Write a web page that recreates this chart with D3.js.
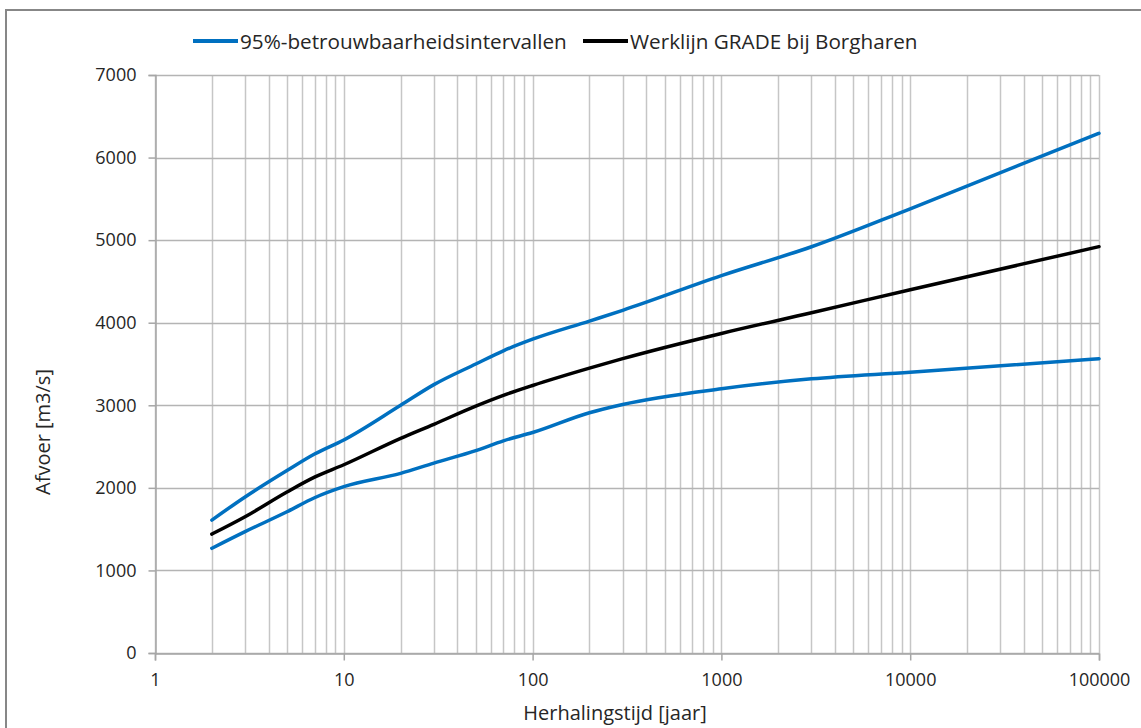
<!DOCTYPE html>
<html lang="nl">
<head>
<meta charset="UTF-8">
<title>Werklijn GRADE bij Borgharen</title>
<script src="https://cdn.jsdelivr.net/npm/d3@7"></script>
<style>
  body { margin: 0; background: #fff; }
  text { font-family: "Open Sans", "Noto Sans", sans-serif; fill: #262626; }
</style>
</head>
<body>
<svg id="chart" width="1141" height="728"></svg>
<script>
// herhalingstijd (jaar) en afvoer (m3/s)
var jaren   = [2, 3, 5, 7, 10, 20, 30, 50, 70, 100, 200, 300, 1000, 3000, 10000, 100000];
var boven   = [1610, 1890, 2210, 2410, 2580, 3000, 3250, 3500, 3660, 3800, 4020, 4150, 4570, 4920, 5380, 6294];
var werklijn= [1440, 1650, 1950, 2130, 2280, 2600, 2770, 2990, 3120, 3240, 3450, 3565, 3870, 4120, 4400, 4921];
var onder   = [1268, 1470, 1710, 1880, 2014, 2176, 2300, 2450, 2570, 2670, 2910, 3010, 3200, 3320, 3400, 3565];

var xTicks = [1, 10, 100, 1000, 10000, 100000];
var yTicks = [0, 1000, 2000, 3000, 4000, 5000, 6000, 7000];

var svg = d3.select('#chart');

// rand om de grafiek
svg.append('rect')
  .attr('x', 6).attr('y', 10)
  .attr('width', 1150).attr('height', 740)
  .attr('fill', 'none').attr('stroke', '#878787').attr('stroke-width', 2);

var x = d3.scaleLog().domain([1, 100000]).range([155, 1099]);
var y = d3.scaleLinear().domain([0, 7000]).range([653, 75]);

// verticale rasterlijnen: 1..9 per decade
var minors = [];
for (var d = 1; d < 100000; d *= 10) {
  for (var k = 1; k < 10; k++) minors.push(d * k);
}
minors.push(100000);

var grid = svg.append('g');
grid.selectAll('line.v')
  .data(minors)
  .enter().append('line')
  .attr('class', 'v')
  .attr('x1', function(d) { return Math.round(x(d)) + 0.5; })
  .attr('x2', function(d) { return Math.round(x(d)) + 0.5; })
  .attr('y1', y(7000)).attr('y2', y(0))
  .attr('stroke', '#c6c6c6').attr('stroke-width', 1.5);

grid.selectAll('line.h')
  .data(yTicks)
  .enter().append('line')
  .attr('class', 'h')
  .attr('x1', x(1)).attr('x2', x(100000))
  .attr('y1', function(d) { return Math.round(y(d)) + 0.5; })
  .attr('y2', function(d) { return Math.round(y(d)) + 0.5; })
  .attr('stroke', '#b4b4b4').attr('stroke-width', 1.5);

// y-as
var yAxis = d3.axisLeft(y).tickValues(yTicks).tickSize(7).tickPadding(12).tickFormat(d3.format('d'));
svg.append('g')
  .attr('transform', 'translate(' + (x(1) + 0.5) + ',0)')
  .call(yAxis)
  .call(function(g) {
    g.select('.domain').attr('stroke', '#a6a6a6').attr('stroke-width', 1.5);
    g.selectAll('.tick line').attr('stroke', '#a6a6a6').attr('stroke-width', 1.5);
    g.selectAll('.tick text').style('font-size', '18px').attr('fill', '#262626');
  });

// x-as
var xAxis = d3.axisBottom(x).tickValues(xTicks).tickSize(7).tickPadding(13).tickFormat(d3.format('d'));
svg.append('g')
  .attr('transform', 'translate(0,' + (y(0) + 0.5) + ')')
  .call(xAxis)
  .call(function(g) {
    g.select('.domain').attr('stroke', '#a6a6a6').attr('stroke-width', 1.5);
    g.selectAll('.tick line').attr('stroke', '#a6a6a6').attr('stroke-width', 1.5);
    g.selectAll('.tick text').style('font-size', '18px').attr('fill', '#262626');
  });

// lijnen
var line = d3.line()
  .x(function(d) { return x(d[0]); })
  .y(function(d) { return y(d[1]); })
  .curve(d3.curveMonotoneX);

var series = [
  { values: boven, color: '#0070c0' },
  { values: onder, color: '#0070c0' },
  { values: werklijn, color: '#000000' }
];

svg.selectAll('path.serie')
  .data(series)
  .enter().append('path')
  .attr('class', 'serie')
  .attr('d', function(s) { return line(d3.zip(jaren, s.values)); })
  .attr('fill', 'none')
  .attr('stroke', function(s) { return s.color; })
  .attr('stroke-width', 3.5)
  .attr('stroke-linejoin', 'round')
  .attr('stroke-linecap', 'round');

// legenda
var legend = [
  { label: '95%-betrouwbaarheidsintervallen', color: '#0070c0', x0: 193 },
  { label: 'Werklijn GRADE bij Borgharen', color: '#000000', x0: 583 }
];
var lg = svg.selectAll('g.legend')
  .data(legend)
  .enter().append('g')
  .attr('class', 'legend')
  .attr('transform', function(d) { return 'translate(' + d.x0 + ',41)'; });
lg.append('line')
  .attr('x1', 0).attr('x2', 45)
  .attr('stroke', function(d) { return d.color; })
  .attr('stroke-width', 4);
lg.append('text')
  .attr('x', 47).attr('y', 8)
  .style('font-size', '20.7px')
  .text(function(d) { return d.label; });

// astitels
svg.append('text')
  .attr('x', 615).attr('y', 720)
  .attr('text-anchor', 'middle')
  .style('font-size', '20px')
  .text('Herhalingstijd [jaar]');

svg.append('text')
  .attr('transform', 'translate(50,432) rotate(-90)')
  .attr('text-anchor', 'middle')
  .style('font-size', '20px')
  .text('Afvoer [m3/s]');
</script>
</body>
</html>
